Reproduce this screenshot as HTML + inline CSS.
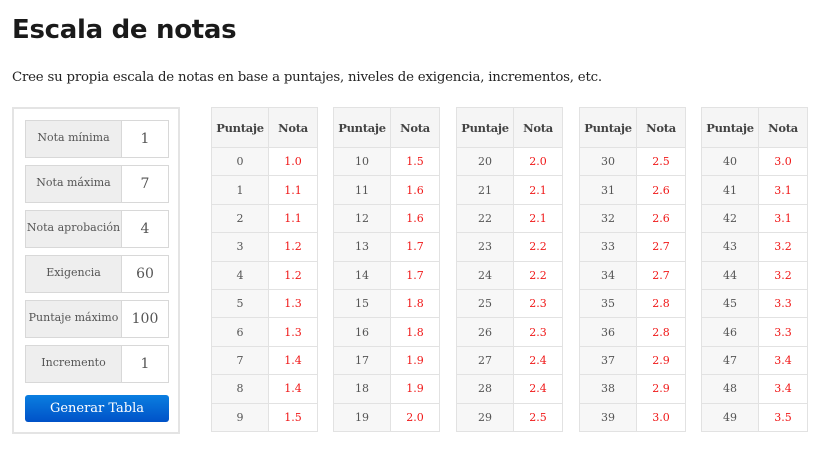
<!DOCTYPE html>
<html><head><meta charset="utf-8"><style>
*{box-sizing:border-box;margin:0;padding:0}
body{width:830px;height:450px;background:#fff;position:relative;font-family:"DejaVu Serif","Liberation Serif",serif;color:#333;overflow:hidden}
h1{position:absolute;left:12px;top:15px;font:bold 26px "DejaVu Sans","Liberation Sans",sans-serif;color:#1a1a1a;letter-spacing:-0.3px}
.sub{position:absolute;left:12px;top:70px;font-size:13.3px;color:#222;white-space:nowrap;letter-spacing:-0.2px}
.panel{position:absolute;left:12px;top:107px;width:168px;height:327px;border:2px solid #e4e4e4}
.row{position:absolute;left:11px;width:144px;height:38px;border:1px solid #d8d8d8;display:flex}
.row .l{width:96px;background:#eee;border-right:1px solid #d8d8d8;font-size:11px;color:#555;display:flex;align-items:center;justify-content:center;white-space:nowrap;padding-bottom:4px}
.row .v{flex:1;background:#fff;font-size:14px;color:#555;display:flex;align-items:center;justify-content:center}
.btn{position:absolute;left:11px;top:286px;width:144px;height:27px;border-radius:3px;background:linear-gradient(#0a7ee0,#0052c8);color:#fff;font-size:13px;display:flex;align-items:center;justify-content:center}
table{position:absolute;top:107px;border-collapse:collapse;width:107px}
td,th{border:1px solid #e2e2e2;text-align:center;font-size:11px;height:28.4px;padding:0}
th{height:40px;background:#f5f5f5;font-weight:bold;font-size:11.5px;color:#444;letter-spacing:-0.3px}
td.p{background:#f7f7f7;color:#555;width:57px}
td.n{color:#f01818;background:#fff}
</style></head><body>
<h1>Escala de notas</h1>
<div class="sub">Cree su propia escala de notas en base a puntajes, niveles de exigencia, incrementos, etc.</div>
<div class="panel">
<div class="row" style="top:11px"><div class="l">Nota mínima</div><div class="v">1</div></div>
<div class="row" style="top:56px"><div class="l">Nota máxima</div><div class="v">7</div></div>
<div class="row" style="top:101px"><div class="l">Nota aprobación</div><div class="v">4</div></div>
<div class="row" style="top:146px"><div class="l">Exigencia</div><div class="v">60</div></div>
<div class="row" style="top:191px"><div class="l">Puntaje máximo</div><div class="v">100</div></div>
<div class="row" style="top:236px"><div class="l">Incremento</div><div class="v">1</div></div>
<div class="btn">Generar Tabla</div>
</div>
<div id="t"></div>
<script>
var xs=[211,333,456,579,701],h='';
for(var t=0;t<5;t++){h+='<table style="left:'+xs[t]+'px"><tr><th>Puntaje</th><th>Nota</th></tr>';
for(var r=0;r<10;r++){var p=t*10+r;var n=(Math.round((1+3*p/60)*10+1e-9)/10).toFixed(1);h+='<tr><td class="p">'+p+'</td><td class="n">'+n+'</td></tr>';}
h+='</table>';}
document.getElementById('t').innerHTML=h;
</script>
</body></html>
